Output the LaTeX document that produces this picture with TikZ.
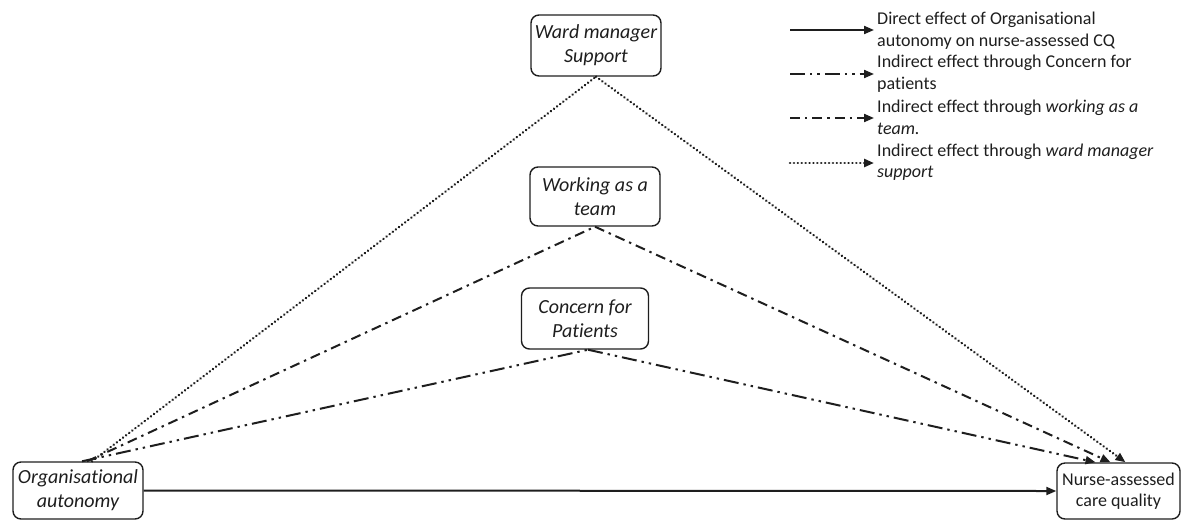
\documentclass[tikz,border=0pt]{standalone}
\usepackage{fontspec}
\setmainfont{Carlito}[Ligatures=NoCommon]
\usetikzlibrary{arrows.meta}

\definecolor{ink}{HTML}{1E1E1E}

\tikzset{
  box/.style={draw=ink, line width=1.4pt, rounded corners=8pt, align=center,
    inner sep=0pt, text=ink},
  medbox/.style={box, font=\fontsize{20}{24}\selectfont\itshape},
  outbox/.style={box, font=\fontsize{18}{21.5}\selectfont},
  tip/.style={-{Triangle[length=10pt,width=8pt]}},
  link/.style={draw=ink, line width=2pt, tip},
  direct/.style={link},
  concern/.style={link, dash pattern=on 15pt off 5pt on 2.4pt off 5pt on 2.4pt off 5pt},
  teamwork/.style={link, dash pattern=on 10pt off 5pt on 2.4pt off 5pt},
  wardsup/.style={link, line cap=round, dash pattern=on 0.1pt off 3.8pt, line width=2.6pt},
  legtext/.style={anchor=west, align=left, inner sep=0pt, text=ink,
    font=\fontsize{18}{21.5}\selectfont}
}

\begin{document}
\begin{tikzpicture}[x=1pt, y=-1pt]
  \useasboundingbox (0,0) rectangle (1182,520);

  % mediator and end-point boxes
  \node[medbox, minimum width=130pt, minimum height=61pt] (ward) at (596,45.5) {Ward manager\\Support};
  \node[medbox, minimum width=130pt, minimum height=59pt] (team) at (595,196.5) {Working as a\\team};
  \node[medbox, minimum width=127pt, minimum height=61pt] (concern) at (585,318.5) {Concern for\\Patients};
  \node[medbox, minimum width=130pt, minimum height=57pt] (org) at (78,490.5) {Organisational\\autonomy};
  \node[outbox, minimum width=123pt, minimum height=56pt] (cq) at (1118.5,491) {Nurse-assessed\\care quality};

  % attachment points on the box edges
  \coordinate (oW) at ([xshift=14pt]org.north);
  \coordinate (oT) at ([xshift=9pt]org.north);
  \coordinate (oC) at ([xshift=4pt]org.north);
  \coordinate (cW) at ([xshift=7pt]cq.north);
  \coordinate (cT) at ([xshift=-8pt]cq.north);
  \coordinate (cC) at ([xshift=-23pt]cq.north);
  \coordinate (cApex) at ([xshift=3pt]concern.south);

  % direct effect
  \draw[direct] (org.east) -- (cq.west);

  % indirect paths
  \draw[wardsup, -] (oW) -- (ward.south);
  \draw[wardsup] (ward.south) -- (cW);
  \draw[teamwork, -] (oT) -- (team.south);
  \draw[teamwork] (team.south) -- (cT);
  \draw[concern, -] (oC) -- (cApex);
  \draw[concern] (cApex) -- (cC);

  % key
  \coordinate (k1a) at (790,30);  \coordinate (k1b) at (874,30);
  \coordinate (k2a) at (790,74);  \coordinate (k2b) at (874,74);
  \coordinate (k3a) at (790,118); \coordinate (k3b) at (874,118);
  \coordinate (k4a) at (790,163); \coordinate (k4b) at (874,163);
  \draw[direct] (k1a) -- (k1b);
  \draw[concern] (k2a) -- (k2b);
  \draw[teamwork] (k3a) -- (k3b);
  \draw[wardsup] (k4a) -- (k4b);

  \node[legtext] (l1) at (877,30.5) {Direct effect of Organisational\\autonomy on nurse-assessed CQ};
  \node[legtext] (l2) at (877,73.5) {Indirect effect through Concern for\\patients};
  \node[legtext] (l3) at (877,117.5) {Indirect effect through \textit{working as a}\\\textit{team.}};
  \node[legtext] (l4) at (877,162) {Indirect effect through \textit{ward manager}\\\textit{support}};
\end{tikzpicture}
\end{document}
